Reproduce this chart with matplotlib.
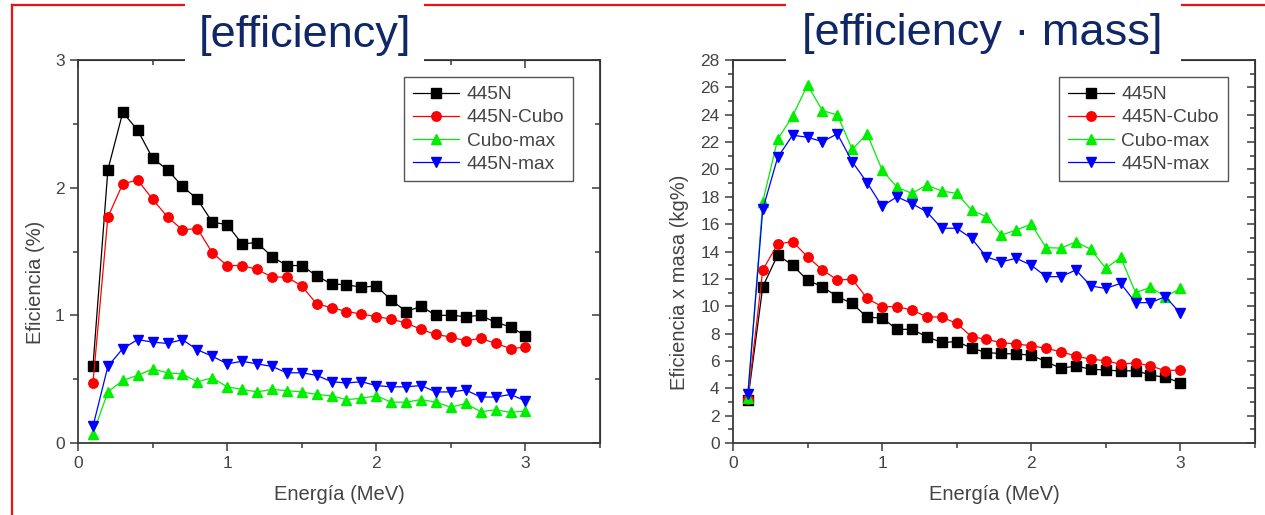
import matplotlib
matplotlib.use("Agg")
import matplotlib.pyplot as plt
from matplotlib.lines import Line2D
from matplotlib.patches import Rectangle
from matplotlib.ticker import MultipleLocator

plt.rcParams['font.family'] = ['Liberation Sans', 'DejaVu Sans']

# energia (MeV)
energia = [0.1, 0.2, 0.3, 0.4, 0.5, 0.6, 0.7, 0.8, 0.9, 1.0,
           1.1, 1.2, 1.3, 1.4, 1.5, 1.6, 1.7, 1.8, 1.9, 2.0,
           2.1, 2.2, 2.3, 2.4, 2.5, 2.6, 2.7, 2.8, 2.9, 3.0]

series_names = ['445N', '445N-Cubo', 'Cubo-max', '445N-max']

# eficiencia (%)
ef_445N = [0.60, 2.14, 2.59, 2.45, 2.23, 2.14, 2.01, 1.91, 1.73, 1.71,
           1.56, 1.57, 1.46, 1.39, 1.39, 1.31, 1.245, 1.24, 1.22, 1.23,
           1.12, 1.03, 1.07, 1.00, 1.00, 0.99, 1.00, 0.945, 0.91, 0.84]
ef_cubo = [0.47, 1.77, 2.03, 2.06, 1.91, 1.77, 1.67, 1.68, 1.49, 1.39,
           1.39, 1.36, 1.30, 1.30, 1.23, 1.09, 1.06, 1.03, 1.01, 0.99,
           0.97, 0.94, 0.89, 0.85, 0.83, 0.80, 0.82, 0.78, 0.74, 0.75]
ef_cubo_max = [0.07, 0.40, 0.49, 0.53, 0.58, 0.55, 0.54, 0.48, 0.51, 0.44,
               0.42, 0.40, 0.42, 0.41, 0.40, 0.38, 0.37, 0.34, 0.35, 0.37,
               0.32, 0.32, 0.34, 0.32, 0.28, 0.31, 0.245, 0.26, 0.24, 0.25]
ef_445N_max = [0.13, 0.60, 0.74, 0.81, 0.79, 0.78, 0.81, 0.73, 0.68, 0.62,
               0.64, 0.62, 0.60, 0.55, 0.55, 0.53, 0.48, 0.47, 0.48, 0.45,
               0.44, 0.44, 0.45, 0.40, 0.40, 0.415, 0.36, 0.36, 0.38, 0.33]

# eficiencia x masa (kg%)
em_445N = [3.15, 11.43, 13.74, 13.0, 11.9, 11.43, 10.7, 10.2, 9.19, 9.14,
           8.31, 8.31, 7.77, 7.35, 7.41, 6.95, 6.6, 6.55, 6.5, 6.43,
           5.94, 5.46, 5.63, 5.39, 5.34, 5.26, 5.29, 4.97, 4.8, 4.41]
em_cubo = [3.25, 12.65, 14.55, 14.72, 13.62, 12.65, 11.92, 11.97, 10.57, 9.97,
           9.97, 9.72, 9.23, 9.2, 8.75, 7.77, 7.58, 7.33, 7.24, 7.11,
           6.92, 6.67, 6.36, 6.12, 6.02, 5.75, 5.87, 5.63, 5.29, 5.34]
em_cubo_max = [3.3, 17.64, 22.2, 23.9, 26.17, 24.3, 23.98, 21.47, 22.6, 19.96,
               18.7, 18.25, 18.86, 18.42, 18.25, 17.03, 16.54, 15.2, 15.57, 16.0,
               14.28, 14.25, 14.7, 14.16, 12.77, 13.57, 10.99, 11.38, 10.7, 11.3]
em_445N_max = [3.58, 17.08, 20.88, 22.5, 22.35, 22.03, 22.6, 20.56, 19.03, 17.3,
               18.0, 17.5, 16.9, 15.7, 15.7, 14.96, 13.6, 13.25, 13.5, 13.0,
               12.16, 12.16, 12.65, 11.48, 11.3, 11.67, 10.26, 10.26, 10.7, 9.48]

colors = ['black', '#ff0000', '#00ee00', '#0000ff']
markers = ['s', 'o', '^', 'v']
spine_col = '#3a3a3a'
txt_col = '#444444'


def draw_panel(ax, data, ylim, ymajor, yminor, ylabel):
    for y, name, c, m in zip(data, series_names, colors, markers):
        ax.plot(energia, y, color=c, marker=m, markersize=6.8, lw=0.9,
                markeredgecolor=c, label=name)
    ax.set_xlim(0, 3.5)
    ax.set_ylim(*ylim)
    ax.xaxis.set_major_locator(MultipleLocator(1))
    ax.xaxis.set_minor_locator(MultipleLocator(0.5))
    ax.yaxis.set_major_locator(MultipleLocator(ymajor))
    ax.yaxis.set_minor_locator(MultipleLocator(yminor))
    ax.tick_params(which='both', direction='out', colors=spine_col,
                   labelcolor=txt_col, labelsize=12.5, width=1.1)
    ax.tick_params(which='major', length=6)
    ax.tick_params(which='minor', length=3.5)
    for s in ax.spines.values():
        s.set_color(spine_col)
        s.set_linewidth(1.3)

    # ticks hacia dentro arriba y a la derecha
    top = ax.secondary_xaxis('top')
    top.xaxis.set_major_locator(MultipleLocator(1))
    top.xaxis.set_minor_locator(MultipleLocator(0.5))
    top.tick_params(which='both', direction='in', labeltop=False,
                    colors=spine_col, width=1.1)
    top.tick_params(which='major', length=6)
    top.tick_params(which='minor', length=3.5)
    right = ax.secondary_yaxis('right')
    right.yaxis.set_major_locator(MultipleLocator(ymajor))
    right.yaxis.set_minor_locator(MultipleLocator(yminor))
    right.tick_params(which='both', direction='in', labelright=False,
                      colors=spine_col, width=1.1)
    right.tick_params(which='major', length=6)
    right.tick_params(which='minor', length=3.5)

    ax.set_xlabel('Energía (MeV)', fontsize=14.5, color=txt_col, labelpad=10)
    ax.set_ylabel(ylabel, fontsize=14.5, color=txt_col)

    leg = ax.legend(loc='upper left', bbox_to_anchor=(0.625, 0.955),
                    borderaxespad=0, fancybox=False, fontsize=13.8,
                    handlelength=2.4, labelspacing=0.3, handletextpad=0.4,
                    borderpad=0.45, markerscale=1.0, framealpha=1)
    leg.get_frame().set_edgecolor('#555555')
    leg.get_frame().set_linewidth(1.0)
    for t in leg.get_texts():
        t.set_color(txt_col)


fig = plt.figure(figsize=(12.65, 5.15), dpi=100)
ax1 = fig.add_axes([0.0617, 0.1398, 0.4126, 0.7437])
ax2 = fig.add_axes([0.5794, 0.1398, 0.4126, 0.7437])

draw_panel(ax1, [ef_445N, ef_cubo, ef_cubo_max, ef_445N_max],
           (0, 3), 1, 0.5, 'Eficiencia (%)')
draw_panel(ax2, [em_445N, em_cubo, em_cubo_max, em_445N_max],
           (0, 28), 2, 1, 'Eficiencia x masa (kg%)')

# la etiqueta y va algo mas abajo que el centro del eje
ax1.yaxis.set_label_coords(-0.064, 0.42)
ax2.yaxis.set_label_coords(-0.085, 0.42)

# marco rojo de la diapositiva
fig.add_artist(Line2D([12 / 1265, 12 / 1265], [0, 1 - 5 / 515],
                      transform=fig.transFigure, color='#ee1111', lw=1.6, zorder=4))
fig.add_artist(Line2D([12 / 1265, 1], [1 - 5 / 515, 1 - 5 / 515],
                      transform=fig.transFigure, color='#ee1111', lw=1.6, zorder=4))

# cajas blancas de los titulos
for x0, x1 in [(185, 424), (786, 1181)]:
    fig.add_artist(Rectangle((x0 / 1265, 1 - 70 / 515), (x1 - x0) / 1265, 70 / 515,
                             transform=fig.transFigure, facecolor='white',
                             edgecolor='none', zorder=5))
fig.text(305 / 1265, 1 - 35 / 515, '[efficiency]', ha='center', va='center',
         fontsize=32.5, color='#0f2767', zorder=6)
fig.text(982 / 1265, 1 - 33 / 515, '[efficiency · mass]', ha='center', va='center',
         fontsize=32.5, color='#0f2767', zorder=6)

fig.savefig('out.png', dpi=100)
